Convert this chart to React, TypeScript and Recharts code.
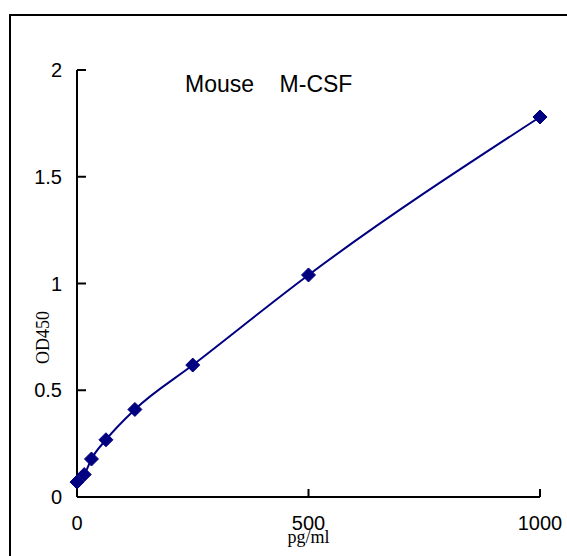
import { Line, LineChart, XAxis, YAxis } from 'recharts'

// standard curve, Mouse M-CSF ELISA
const concentrations = [0, 15.6, 31.25, 62.5, 125, 250, 500, 1000]
const odValues = [0.07, 0.105, 0.178, 0.268, 0.41, 0.618, 1.04, 1.78]
const xTicks = [0, 500, 1000]
const yTicks = [0, 0.5, 1, 1.5, 2]

const data = concentrations.map((x, i) => ({ x, od: odValues[i] }))

const NAVY = '#000080'
const SANS = '"Liberation Sans", Arial, sans-serif'
const SERIF = '"Liberation Serif", "DejaVu Serif", serif'

function Diamond(props: any) {
  const { cx, cy, index } = props
  if (cx == null || cy == null) return <g key={index} />
  const r = 7
  return (
    <polygon
      key={index}
      points={`${cx},${cy - r} ${cx + r},${cy} ${cx},${cy + r} ${cx - r},${cy}`}
      fill={NAVY}
      stroke={NAVY}
    />
  )
}

export default function App() {
  const axisStroke = { stroke: '#000', strokeWidth: 2 }
  const tickStyle = { fontSize: 20, fill: '#000', fontFamily: SANS }

  return (
    <div
      style={{
        position: 'absolute',
        left: 0,
        top: 0,
        width: 567,
        height: 556,
        overflow: 'hidden',
        background: '#fff',
      }}
    >
      <div
        style={{
          position: 'absolute',
          left: 9,
          top: 14,
          width: 700,
          height: 700,
          border: '2px solid #000',
        }}
      />
      <div style={{ position: 'absolute', left: 0, top: 0 }}>
        <LineChart
          width={567}
          height={556}
          data={data}
          margin={{ top: 70, right: 27, bottom: 0, left: 17 }}
        >
          <XAxis
            dataKey="x"
            type="number"
            domain={[0, 1000]}
            ticks={xTicks}
            height={59}
            axisLine={axisStroke}
            tickLine={axisStroke}
            tickSize={-8}
            tickMargin={27}
            tick={tickStyle}
            label={{
              value: 'pg/ml',
              position: 'insideBottom',
              offset: 13,
              fontSize: 18,
              fill: '#000',
              fontFamily: SERIF,
            }}
          />
          <YAxis
            type="number"
            domain={[0, 2]}
            ticks={yTicks}
            width={60}
            axisLine={axisStroke}
            tickLine={axisStroke}
            tickSize={-9}
            tickMargin={24}
            tick={tickStyle}
            label={{
              value: 'OD450',
              content: ({ viewBox }: any) => {
                const cx = viewBox.x + 26
                const cy = viewBox.y + viewBox.height / 2 + 54
                return (
                  <text
                    x={cx}
                    y={cy}
                    transform={`rotate(-90 ${cx} ${cy})`}
                    textAnchor="middle"
                    dominantBaseline="central"
                    fontSize={18}
                    fontFamily={SERIF}
                    fill="#000"
                  >
                    OD450
                  </text>
                )
              },
            }}
          />
          <Line
            dataKey="od"
            type="monotone"
            stroke={NAVY}
            strokeWidth={2}
            dot={Diamond}
            activeDot={false}
            isAnimationActive={false}
          />
        </LineChart>
      </div>
      <svg
        width={567}
        height={556}
        style={{ position: 'absolute', left: 0, top: 0, pointerEvents: 'none' }}
      >
        <text
          x={185}
          y={92}
          fontSize={23}
          fontFamily={SANS}
          fill="#000"
          style={{ whiteSpace: 'pre' }}
        >
          {'Mouse    M-CSF'}
        </text>
      </svg>
    </div>
  )
}
